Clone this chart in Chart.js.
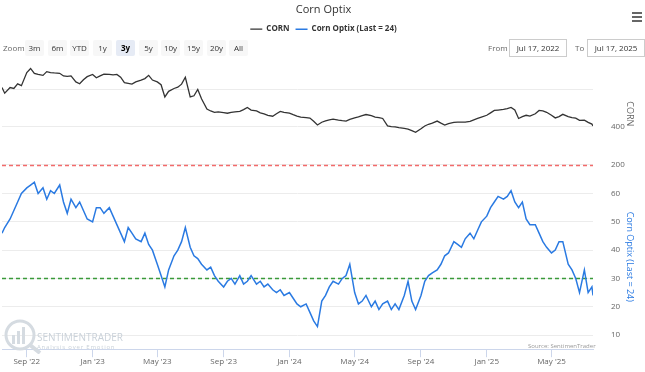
<!DOCTYPE html>
<html>
<head>
<meta charset="utf-8">
<script src="https://cdn.jsdelivr.net/npm/chart.js@4.4.0/dist/chart.umd.min.js"></script>
<style>
body{margin:0;background:#fff;font-family:'Open Sans',sans-serif}
#wrap{position:relative;width:645px;height:372px;overflow:hidden}
#c{position:absolute;left:0;top:0}
.lbl{position:absolute;font-size:8px;color:#666;line-height:16px;top:40px}
.btn{position:absolute;top:40px;height:16px;width:19px;background:#f7f7f7;border-radius:2px;font-size:8px;line-height:16px;text-align:center;color:#333}
.btn.on{background:#e6ebf5;font-weight:bold;color:#000}
.inp{position:absolute;top:39px;height:16px;width:56px;border:1px solid #ccc;font-size:8px;line-height:16px;text-align:center;color:#333;background:#fff}
.menu{position:absolute;left:632px;top:12px;width:10px;height:2px;background:#666}
.wm{position:absolute;color:#c9d1d9;white-space:nowrap}
.src{position:absolute;left:528px;top:342px;font-size:6px;color:#999}
</style>
</head>
<body>
<div id="wrap">
<canvas id="c" width="645" height="372"></canvas>

<div class="menu"></div><div class="menu" style="top:16px"></div><div class="menu" style="top:20px"></div>

<div class="lbl" style="left:3px">Zoom</div>
<div class="btn" style="left:25px">3m</div>
<div class="btn" style="left:48px">6m</div>
<div class="btn" style="left:70px">YTD</div>
<div class="btn" style="left:93px">1y</div>
<div class="btn on" style="left:116px">3y</div>
<div class="btn" style="left:139px">5y</div>
<div class="btn" style="left:161px">10y</div>
<div class="btn" style="left:184px">15y</div>
<div class="btn" style="left:207px">20y</div>
<div class="btn" style="left:229px">All</div>

<div class="lbl" style="left:488px">From</div>
<div class="inp" style="left:509px">Jul 17, 2022</div>
<div class="lbl" style="left:575px">To</div>
<div class="inp" style="left:587px">Jul 17, 2025</div>

<svg class="wm" style="left:3px;top:318px" width="40" height="36" viewBox="0 0 40 36">
  <circle cx="17" cy="17" r="14" fill="none" stroke="#d5dbe1" stroke-width="3"/>
  <rect x="9" y="17" width="3" height="9" fill="#d5dbe1"/>
  <rect x="14" y="13" width="3" height="13" fill="#d5dbe1"/>
  <rect x="19" y="9" width="3" height="17" fill="#d5dbe1"/>
  <line x1="27" y1="27" x2="37" y2="35" stroke="#d5dbe1" stroke-width="4"/>
</svg>
<div class="wm" style="left:37px;top:330px;font-size:10px">SENTIMENTRADER</div>
<div class="wm" style="left:37px;top:343px;font-size:6px;letter-spacing:0.8px">Analysis over Emotion</div>
<div class="src">Source: SentimenTrader</div>
</div>

<script>
// dates (weekly samples)
var dates = [
  '2022-07-17','2022-07-22',
  '2022-08-01','2022-08-08','2022-08-15','2022-08-22',
  '2022-09-01','2022-09-08','2022-09-15','2022-09-22',
  '2022-10-01','2022-10-08','2022-10-15','2022-10-22',
  '2022-11-01','2022-11-08','2022-11-15','2022-11-22',
  '2022-12-01','2022-12-08','2022-12-15','2022-12-22',
  '2023-01-01','2023-01-08','2023-01-15','2023-01-22',
  '2023-02-01','2023-02-08','2023-02-15','2023-02-22',
  '2023-03-01','2023-03-08','2023-03-15','2023-03-22',
  '2023-04-01','2023-04-08','2023-04-15','2023-04-22',
  '2023-05-01','2023-05-08','2023-05-15','2023-05-22',
  '2023-06-01','2023-06-08','2023-06-15','2023-06-22',
  '2023-07-01','2023-07-08','2023-07-15','2023-07-22',
  '2023-08-01','2023-08-08','2023-08-15','2023-08-22',
  '2023-09-01','2023-09-08','2023-09-15','2023-09-22',
  '2023-10-01','2023-10-08','2023-10-15','2023-10-22',
  '2023-11-01','2023-11-08','2023-11-15','2023-11-22',
  '2023-12-01','2023-12-08','2023-12-15','2023-12-22',
  '2024-01-01','2024-01-08','2024-01-15','2024-01-22',
  '2024-02-01','2024-02-08','2024-02-15','2024-02-22',
  '2024-03-01','2024-03-08','2024-03-15','2024-03-22',
  '2024-04-01','2024-04-08','2024-04-15','2024-04-22',
  '2024-05-01','2024-05-08','2024-05-15','2024-05-22',
  '2024-06-01','2024-06-08','2024-06-15','2024-06-22',
  '2024-07-01','2024-07-08','2024-07-15','2024-07-22',
  '2024-08-01','2024-08-08','2024-08-15','2024-08-22',
  '2024-09-01','2024-09-08','2024-09-15','2024-09-22',
  '2024-10-01','2024-10-08','2024-10-15','2024-10-22',
  '2024-11-01','2024-11-08','2024-11-15','2024-11-22',
  '2024-12-01','2024-12-08','2024-12-15','2024-12-22',
  '2025-01-01','2025-01-08','2025-01-15','2025-01-22',
  '2025-02-01','2025-02-08','2025-02-15','2025-02-22',
  '2025-03-01','2025-03-08','2025-03-15','2025-03-22',
  '2025-04-01','2025-04-08','2025-04-15','2025-04-22',
  '2025-05-01','2025-05-08','2025-05-15','2025-05-22',
  '2025-06-01','2025-06-08','2025-06-15','2025-06-22',
  '2025-07-01','2025-07-08','2025-07-15','2025-07-17'
];

var cornValues = [
  610, 580,
  610, 605, 630, 620,
  690, 712, 686, 680,
  675, 695, 690, 688,
  686, 672, 670, 672,
  640, 630, 652, 668,
  680, 662, 672, 682,
  680, 678, 680, 665,
  636, 632, 628, 640,
  650, 658, 675, 650,
  640, 625, 560, 590,
  605, 612, 628, 665,
  560, 566, 600, 550,
  495, 485, 478, 480,
  476, 473, 478, 480,
  483, 492, 504, 490,
  485, 475, 470, 462,
  457, 470, 483, 478,
  473, 465, 458, 452,
  450, 447, 430, 410,
  425, 432, 438, 441,
  436, 433, 431, 440,
  448, 453, 460, 466,
  460, 452, 450, 445,
  405, 402, 400, 396,
  392, 388, 380, 371,
  390, 405, 414, 420,
  431, 420, 410, 418,
  424, 426, 425, 426,
  430, 438, 445, 452,
  462, 475, 488, 490,
  493, 498, 504, 490,
  445, 455, 462, 458,
  470, 488, 485, 478,
  462, 448, 455, 467,
  455, 450, 447, 435,
  436, 424, 415, 405
];

var optixValues = [
  46, 48,
  51, 54, 57, 60,
  62, 63, 64, 60,
  62, 58, 61, 60,
  63, 57, 53, 58,
  55, 57, 54, 51,
  50, 55, 55, 53,
  55, 52, 49, 46,
  43, 48, 46, 44,
  43, 46, 42, 40,
  35, 31, 27, 33,
  38, 40, 43, 48,
  41, 38, 37, 35,
  33, 34, 31, 29,
  27, 29, 30, 28,
  31, 28, 29, 31,
  28, 29, 27, 28,
  26, 25, 26, 24,
  25, 23, 21, 20,
  21, 18, 15, 13,
  22, 24, 27, 29,
  28, 30, 31, 35,
  25, 21, 22, 24,
  20, 22, 19, 21,
  22, 19, 21, 19,
  24, 29, 22, 19,
  24, 29, 31, 32,
  33, 35, 38, 39,
  43, 42, 41, 44,
  46, 44, 47, 50,
  52, 55, 57, 59,
  58, 59, 61, 57,
  55, 57, 51, 49,
  49, 46, 43, 41,
  39, 40, 43, 43,
  35, 33, 30, 25,
  33, 25, 27, 24
];

var xTickDates = ['2022-09-01','2023-01-01','2023-05-01','2023-09-01','2024-01-01','2024-05-01','2024-09-01','2025-01-01','2025-05-01'];
var xTickLabels = ["Sep '22","Jan '23","May '23","Sep '23","Jan '24","May '24","Sep '24","Jan '25","May '25"];
var cornTicks = [200, 400, 600];
var cornTickLabels = ['200', '400', ''];
var optixTicks = [10, 20, 30, 40, 50, 60];
var optixPlotLines = [{ value: 70, color: '#f26b6b' }, { value: 30, color: '#3a9a3a' }];

function toDay(s) {
  return Date.UTC(+s.slice(0, 4), +s.slice(5, 7) - 1, +s.slice(8, 10)) / 86400000;
}

// dashed plot lines on the Optix axis
var plotLinesPlugin = {
  id: 'plotLines',
  beforeDatasetsDraw: function (chart) {
    var ctx = chart.ctx, area = chart.chartArea, y = chart.scales.yOptix;
    ctx.save();
    ctx.lineWidth = 1.3;
    ctx.setLineDash([4, 3]);
    optixPlotLines.forEach(function (pl) {
      var py = Math.round(y.getPixelForValue(pl.value)) + 0.5;
      ctx.strokeStyle = pl.color;
      ctx.beginPath();
      ctx.moveTo(area.left, py);
      ctx.lineTo(area.right, py);
      ctx.stroke();
    });
    ctx.restore();
  }
};

// leave room under the legend for the zoom row
var legendSpace = {
  id: 'legendSpace',
  beforeInit: function (chart) {
    var fit = chart.legend.fit;
    chart.legend.fit = function () {
      fit.bind(chart.legend)();
      this.height += 20;
    };
  }
};

Chart.defaults.font.family = "'Open Sans', sans-serif";
Chart.defaults.color = '#666';

function fixWidth(axis) { axis.width = 52; }

new Chart(document.getElementById('c'), {
  type: 'line',
  data: {
    datasets: [{
      label: 'CORN',
      data: dates.map(function (d, i) { return { x: toDay(d), y: cornValues[i] }; }),
      yAxisID: 'yCorn',
      borderColor: '#333',
      backgroundColor: '#333',
      borderWidth: 1.3,
      pointRadius: 0,
      tension: 0
    }, {
      label: 'Corn Optix (Last = 24)',
      data: dates.map(function (d, i) { return { x: toDay(d), y: optixValues[i] }; }),
      yAxisID: 'yOptix',
      borderColor: '#2a7ae2',
      backgroundColor: '#2a7ae2',
      borderWidth: 1.5,
      pointRadius: 0,
      tension: 0
    }]
  },
  options: {
    responsive: false,
    animation: false,
    devicePixelRatio: 1,
    layout: { padding: { left: 2, right: 0, top: 0, bottom: -11 } },
    plugins: {
      title: {
        display: true, text: 'Corn Optix', color: '#333',
        font: { size: 11, weight: 'normal' }, padding: { top: 3, bottom: 3 }
      },
      legend: {
        labels: {
          usePointStyle: true, pointStyle: 'line', pointStyleWidth: 12,
          color: '#333', font: { size: 8, weight: 'bold' }, padding: 6
        }
      },
      tooltip: { enabled: false }
    },
    scales: {
      x: {
        type: 'linear',
        min: toDay('2022-07-17'),
        max: toDay('2025-07-17'),
        afterBuildTicks: function (axis) {
          axis.ticks = xTickDates.map(function (d) { return { value: toDay(d) }; });
        },
        ticks: {
          autoSkip: false, maxRotation: 0, padding: 0, color: '#666', font: { size: 8 },
          callback: function (v, i) { return xTickLabels[i]; }
        },
        grid: { drawOnChartArea: false, color: '#ccd6eb', tickLength: 8 },
        border: { color: '#ccd6eb' }
      },
      yCorn: {
        position: 'right', stack: 'panes', stackWeight: 104,
        min: 200, max: 740,
        afterBuildTicks: function (axis) {
          axis.ticks = cornTicks.map(function (v) { return { value: v }; });
        },
        afterFit: fixWidth,
        ticks: {
          padding: 18, color: '#666', font: { size: 8 },
          callback: function (v, i) { return cornTickLabels[i]; }
        },
        grid: { color: '#ececec', drawTicks: false },
        border: { display: false },
        title: { display: true, text: 'CORN', color: '#666', font: { size: 9 }, padding: { top: 10, bottom: 10 } }
      },
      yOptix: {
        position: 'right', stack: 'panes', stackWeight: 190,
        min: 5, max: 70.3,
        afterBuildTicks: function (axis) {
          axis.ticks = optixTicks.map(function (v) { return { value: v }; });
        },
        afterFit: fixWidth,
        ticks: { padding: 18, color: '#666', font: { size: 8 } },
        grid: { color: '#ececec', drawTicks: false },
        border: { display: false },
        title: { display: true, text: 'Corn Optix (Last = 24)', color: '#2a7ae2', font: { size: 9 }, padding: { top: 10, bottom: 10 } }
      }
    }
  },
  plugins: [plotLinesPlugin, legendSpace]
});
</script>
</body>
</html>
